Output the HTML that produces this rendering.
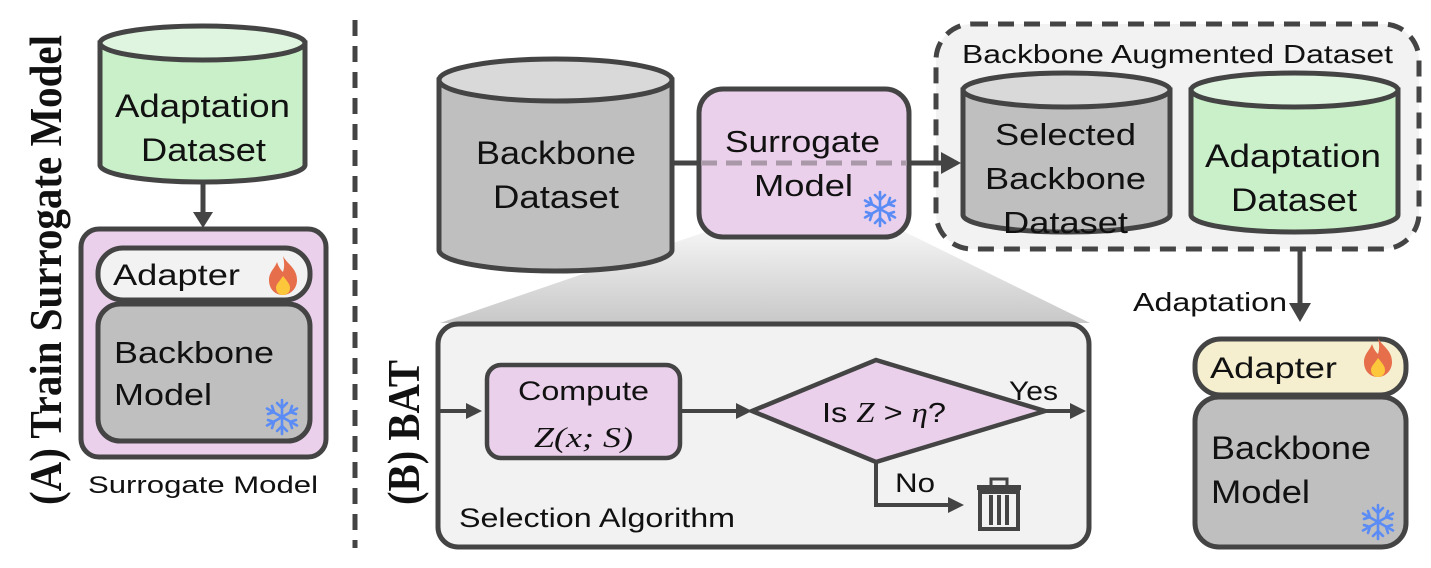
<!DOCTYPE html>
<html><head><meta charset="utf-8"><style>
html,body{margin:0;padding:0;background:#fff;}
svg{display:block;}
text{font-family:"Liberation Sans",sans-serif;fill:#111;}
.n{font-family:"Liberation Sans Narrow","Liberation Sans",sans-serif;}
.m{font-family:"Liberation Serif",serif;font-style:italic;}
</style></head><body>
<svg width="1431" height="568" viewBox="0 0 1431 568" xmlns="http://www.w3.org/2000/svg">
<defs>
<linearGradient id="sh" x1="0" y1="0" x2="0" y2="1"><stop offset="0" stop-color="#f4f4f4"/><stop offset="1" stop-color="#c8c8c8"/></linearGradient>
<g id="snow" stroke="#5b8cf5" stroke-width="2.6" fill="none" stroke-linecap="round">
<line x1="0" y1="-17" x2="0" y2="17"/><line x1="-15" y1="-8.5" x2="15" y2="8.5"/><line x1="-15" y1="8.5" x2="15" y2="-8.5"/>
<path d="M-5,-14 L0,-9 L5,-14 M-5,14 L0,9 L5,14 M-14,-3 L-8,-5 L-10,-11 M14,3 L8,5 L10,11 M-14,3 L-8,5 L-10,11 M14,-3 L8,-5 L10,-11"/>
</g>
<g id="fire"><path d="M0,-20 C4,-12 14,-8 14,4 C14,13 7,19 0,19 C-8,19 -14,13 -14,4 C-14,-4 -8,-8 -6,-14 C-4,-8 -2,-6 0,-4 C2,-10 1,-15 0,-20Z" fill="#e66e4b"/><path d="M0,0 C4,5 7,8 7,12 C7,17 3,19 0,19 C-4,19 -7,16 -7,12 C-7,8 -3,5 0,0Z" fill="#fcc73a"/></g>
</defs>

<!-- Left panel -->
<text transform="translate(61,505) rotate(-90)" textLength="470" lengthAdjust="spacingAndGlyphs" style="font-family:'Liberation Serif',serif;font-weight:bold;font-size:46px">(A) Train Surrogate Model</text>
<path d="M100,43 L100,165 A102.5,17 0 0 0 305,165 L305,43 Z" fill="#c9f0c9" stroke="#444" stroke-width="5"/>
<ellipse cx="202.5" cy="43" rx="102.5" ry="17" fill="#dff5df" stroke="#444" stroke-width="5"/>
<text x="115" y="117" font-size="32" textLength="175" lengthAdjust="spacingAndGlyphs">Adaptation</text>
<text x="141" y="161" font-size="32" textLength="125" lengthAdjust="spacingAndGlyphs">Dataset</text>
<line x1="203" y1="182" x2="203" y2="215" stroke="#444" stroke-width="5"/>
<polygon points="193,212 213,212 203,228" fill="#444"/>
<rect x="81" y="229" width="245" height="228" rx="18" fill="#ebd0ec" stroke="#444" stroke-width="5"/>
<rect x="98" y="248" width="212" height="52" rx="25" fill="#f2f2f2" stroke="#444" stroke-width="5"/>
<text x="113" y="285" font-size="30" textLength="127" lengthAdjust="spacingAndGlyphs">Adapter</text>
<use href="#fire" x="283" y="276"/>
<rect x="98" y="304" width="212" height="137" rx="22" fill="#bfbfbf" stroke="#444" stroke-width="5"/>
<text x="114" y="363" font-size="31" textLength="160" lengthAdjust="spacingAndGlyphs">Backbone</text>
<text x="114" y="405" font-size="31" textLength="98" lengthAdjust="spacingAndGlyphs">Model</text>
<use href="#snow" x="282" y="417"/>
<text x="88" y="493" font-size="24" textLength="230" lengthAdjust="spacingAndGlyphs">Surrogate Model</text>

<line x1="355" y1="20" x2="355" y2="548" stroke="#444" stroke-width="5" stroke-dasharray="16 10"/>
<text transform="translate(419,505) rotate(-90)" textLength="145" lengthAdjust="spacingAndGlyphs" style="font-family:'Liberation Serif',serif;font-weight:bold;font-size:46px">(B) BAT</text>

<!-- shadow -->
<polygon points="705,232 905,232 1090,323 440,323" fill="url(#sh)"/>

<!-- Backbone dataset -->
<path d="M439,80 L439,250 A116.5,21 0 0 0 672,250 L672,80 Z" fill="#bfbfbf" stroke="#444" stroke-width="5"/>
<ellipse cx="555.5" cy="80" rx="116.5" ry="21" fill="#d9d9d9" stroke="#444" stroke-width="5"/>
<text x="476" y="164" font-size="32" textLength="160" lengthAdjust="spacingAndGlyphs">Backbone</text>
<text x="493" y="208" font-size="32" textLength="126" lengthAdjust="spacingAndGlyphs">Dataset</text>

<line x1="672" y1="163" x2="699" y2="163" stroke="#444" stroke-width="5"/>
<rect x="699" y="89" width="210" height="148" rx="24" fill="#ebd0ec" stroke="#444" stroke-width="5"/>
<text x="725" y="152" font-size="31" textLength="155" lengthAdjust="spacingAndGlyphs">Surrogate</text>
<text x="754" y="196" font-size="31" textLength="99" lengthAdjust="spacingAndGlyphs">Model</text>
<line x1="701" y1="163" x2="907" y2="163" stroke="#a898a8" stroke-width="5" stroke-dasharray="16 9"/>
<use href="#snow" x="880" y="209"/>
<line x1="909" y1="163" x2="945" y2="163" stroke="#444" stroke-width="5"/>
<polygon points="940,152 960,163 940,174" fill="#444"/>

<!-- Selection box -->
<rect x="438" y="324" width="651" height="223" rx="20" fill="#f2f2f2" stroke="#444" stroke-width="5"/>
<line x1="440" y1="411" x2="468" y2="411" stroke="#444" stroke-width="4"/>
<polygon points="466,403 482,411 466,419" fill="#444"/>
<rect x="487" y="365" width="193" height="93" rx="14" fill="#ebd0ec" stroke="#444" stroke-width="4.5"/>
<text class="n" x="518" y="400" font-size="27" textLength="131" lengthAdjust="spacingAndGlyphs">Compute</text>
<text class="m" x="534" y="447" font-size="28" textLength="99" lengthAdjust="spacingAndGlyphs">Z(x; S)</text>
<line x1="680" y1="411" x2="738" y2="411" stroke="#444" stroke-width="4"/>
<polygon points="736,403 752,411 736,419" fill="#444"/>
<polygon points="876,360 1045,411 876,462 752,411" fill="#ebd0ec" stroke="#444" stroke-width="4.5"/>
<text x="822" y="422" font-size="28" textLength="124" lengthAdjust="spacingAndGlyphs"><tspan class="n">Is </tspan><tspan class="m">Z</tspan><tspan class="n"> &gt; </tspan><tspan class="m">η</tspan><tspan class="n">?</tspan></text>
<line x1="1045" y1="411" x2="1072" y2="411" stroke="#444" stroke-width="4"/>
<polygon points="1070,403 1086,411 1070,419" fill="#444"/>
<text class="n" x="1009" y="400" font-size="27" textLength="49" lengthAdjust="spacingAndGlyphs">Yes</text>
<polyline points="876,462 876,505 950,505" fill="none" stroke="#444" stroke-width="4"/>
<polygon points="948,497 964,505 948,513" fill="#444"/>
<text class="n" x="895" y="492" font-size="27" textLength="40" lengthAdjust="spacingAndGlyphs">No</text>
<g fill="#444"><rect x="977" y="485" width="44" height="5"/><rect x="991" y="479" width="16" height="8" fill="none" stroke="#444" stroke-width="3"/>
<rect x="980" y="492" width="38" height="37" fill="none" stroke="#444" stroke-width="4"/>
<rect x="989" y="495" width="4" height="30"/><rect x="997" y="495" width="4" height="30"/><rect x="1005" y="495" width="4" height="30"/></g>
<text class="n" x="459" y="527" font-size="27" textLength="276" lengthAdjust="spacingAndGlyphs">Selection Algorithm</text>

<!-- Augmented dataset -->
<rect x="936" y="24" width="483" height="225" rx="36" fill="#f2f2f2" stroke="#444" stroke-width="5" stroke-dasharray="16 10"/>
<line x1="930" y1="163" x2="945" y2="163" stroke="#444" stroke-width="5"/>
<polygon points="941,152 961,163 941,174" fill="#444"/>
<text x="962" y="63" font-size="26" textLength="431" lengthAdjust="spacingAndGlyphs">Backbone Augmented Dataset</text>
<path d="M963,90 L963,215 A103.5,17 0 0 0 1170,215 L1170,90 Z" fill="#bfbfbf" stroke="#444" stroke-width="5"/>
<ellipse cx="1066.5" cy="90" rx="103.5" ry="17" fill="#d9d9d9" stroke="#444" stroke-width="5"/>
<text x="995" y="145" font-size="31" textLength="141" lengthAdjust="spacingAndGlyphs">Selected</text>
<text x="985" y="189" font-size="31" textLength="161" lengthAdjust="spacingAndGlyphs">Backbone</text>
<text x="1003" y="233" font-size="31" textLength="125" lengthAdjust="spacingAndGlyphs">Dataset</text>
<path d="M1191,90 L1191,215 A103.5,17 0 0 0 1398,215 L1398,90 Z" fill="#c9f0c9" stroke="#444" stroke-width="5"/>
<ellipse cx="1294.5" cy="90" rx="103.5" ry="17" fill="#dff5df" stroke="#444" stroke-width="5"/>
<text x="1205" y="167" font-size="32" textLength="176" lengthAdjust="spacingAndGlyphs">Adaptation</text>
<text x="1231" y="211" font-size="32" textLength="126" lengthAdjust="spacingAndGlyphs">Dataset</text>

<line x1="1300" y1="249" x2="1300" y2="306" stroke="#444" stroke-width="5"/>
<polygon points="1289,303 1311,303 1300,322" fill="#444"/>
<text x="1133" y="311" font-size="26" textLength="154" lengthAdjust="spacingAndGlyphs">Adaptation</text>

<rect x="1195" y="339" width="211" height="56" rx="26" fill="#f5efcf" stroke="#444" stroke-width="5"/>
<text x="1210" y="378" font-size="30" textLength="127" lengthAdjust="spacingAndGlyphs">Adapter</text>
<use href="#fire" x="1378" y="358"/>
<rect x="1195" y="397" width="211" height="150" rx="24" fill="#bfbfbf" stroke="#444" stroke-width="5"/>
<text x="1211" y="459" font-size="32" textLength="160" lengthAdjust="spacingAndGlyphs">Backbone</text>
<text x="1211" y="503" font-size="32" textLength="99" lengthAdjust="spacingAndGlyphs">Model</text>
<use href="#snow" x="1378" y="522"/>
</svg>
</body></html>
